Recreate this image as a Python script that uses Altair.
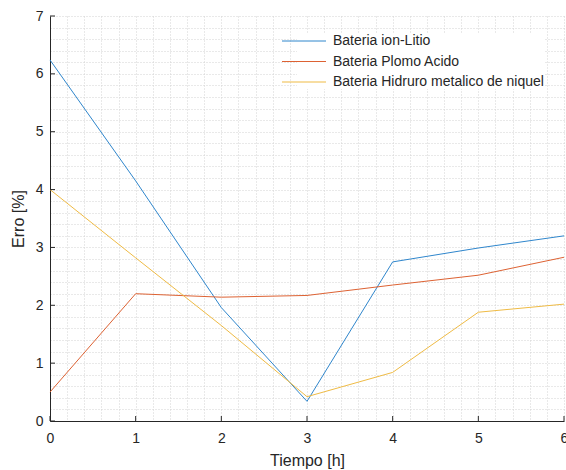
import altair as alt
import pandas as pd

tiempo = [0, 1, 2, 3, 4, 5, 6]
litio = [6.24, 4.15, 1.96, 0.34, 2.75, 2.99, 3.20]
plomo = [0.50, 2.20, 2.14, 2.17, 2.35, 2.52, 2.83]
niquel = [4.00, 2.82, 1.65, 0.42, 0.84, 1.88, 2.02]
series = ["Bateria ion-Litio", "Bateria Plomo Acido", "Bateria Hidruro metalico de niquel"]
colors = ["#2F86CC", "#DD6233", "#EFBB45"]

x_major = [0, 1, 2, 3, 4, 5, 6]
y_major = [0, 1, 2, 3, 4, 5, 6, 7]
x_grid = [round(i * 0.2, 1) for i in range(31)]
y_grid = [round(i * 0.2, 1) for i in range(36)]

rows = []
for name, vals in zip(series, [litio, plomo, niquel]):
    for t, v in zip(tiempo, vals):
        rows.append({"t": t, "v": v, "serie": name})
df = pd.DataFrame(rows)

FONT = "Liberation Sans"
TXT = "#262626"
LBL = "abs(datum.value - round(datum.value)) < 0.001 ? format(datum.value, 'd') : ''"
GRID = "#d2d2d2"

xscale = alt.Scale(domain=[0, 6], nice=False, zero=False)
yscale = alt.Scale(domain=[0, 7], nice=False, zero=False)

xaxis = alt.Axis(
    values=x_grid, grid=True, gridDash=[1, 2], gridColor=GRID, gridWidth=1,
    ticks=False, domain=True, domainColor=TXT, domainWidth=1,
    labelExpr=LBL, labelOverlap=False,
    labelFlush=False, labelFont=FONT, labelFontSize=14, labelColor=TXT, labelPadding=10,
    title="Tiempo [h]", titleFont=FONT, titleFontSize=16, titleFontWeight="normal",
    titleColor=TXT, titlePadding=7,
)
yaxis = alt.Axis(
    values=y_grid, grid=True, gridDash=[1, 2], gridColor=GRID, gridWidth=1,
    ticks=False, domain=True, domainColor=TXT, domainWidth=1,
    labelExpr=LBL, labelOverlap=False,
    labelFlush=False, labelFont=FONT, labelFontSize=14, labelColor=TXT, labelPadding=7,
    title="Erro [%]", titleFont=FONT, titleFontSize=16, titleFontWeight="normal",
    titleColor=TXT, titlePadding=9,
)

lines = alt.Chart(df).mark_line(strokeWidth=1).encode(
    x=alt.X("t:Q", scale=xscale, axis=xaxis),
    y=alt.Y("v:Q", scale=yscale, axis=yaxis),
    color=alt.Color(
        "serie:N",
        scale=alt.Scale(domain=series, range=colors),
        sort=series,
        legend=alt.Legend(
            title=None, orient="none", legendX=247, legendY=18,
            symbolType="M-4.4,0H4.4", symbolSize=100, symbolStrokeWidth=1,
            labelFont=FONT, labelFontSize=14, labelColor=TXT, labelLimit=400,
            rowPadding=6.5, labelOffset=22, fillColor="white",
        ),
    ),
)

xt = alt.Chart(pd.DataFrame({"t": x_major})).mark_rule(color=TXT, strokeWidth=1).encode(
    x=alt.X("t:Q", scale=xscale, axis=xaxis), y=alt.value(405), y2=alt.value(400)
)
yt = alt.Chart(pd.DataFrame({"v": y_major})).mark_rule(color=TXT, strokeWidth=1).encode(
    y=alt.Y("v:Q", scale=yscale, axis=yaxis), x=alt.value(0), x2=alt.value(5)
)

chart = alt.layer(lines, xt, yt).properties(
    width=514, height=405,
    autosize=alt.AutoSizeParams(type="none"),
    padding={"left": 50, "top": 16, "right": 2, "bottom": 49},
    background="white",
).configure_view(stroke=None)

chart.save("out.html", embed_options={"renderer": "svg", "actions": False})
